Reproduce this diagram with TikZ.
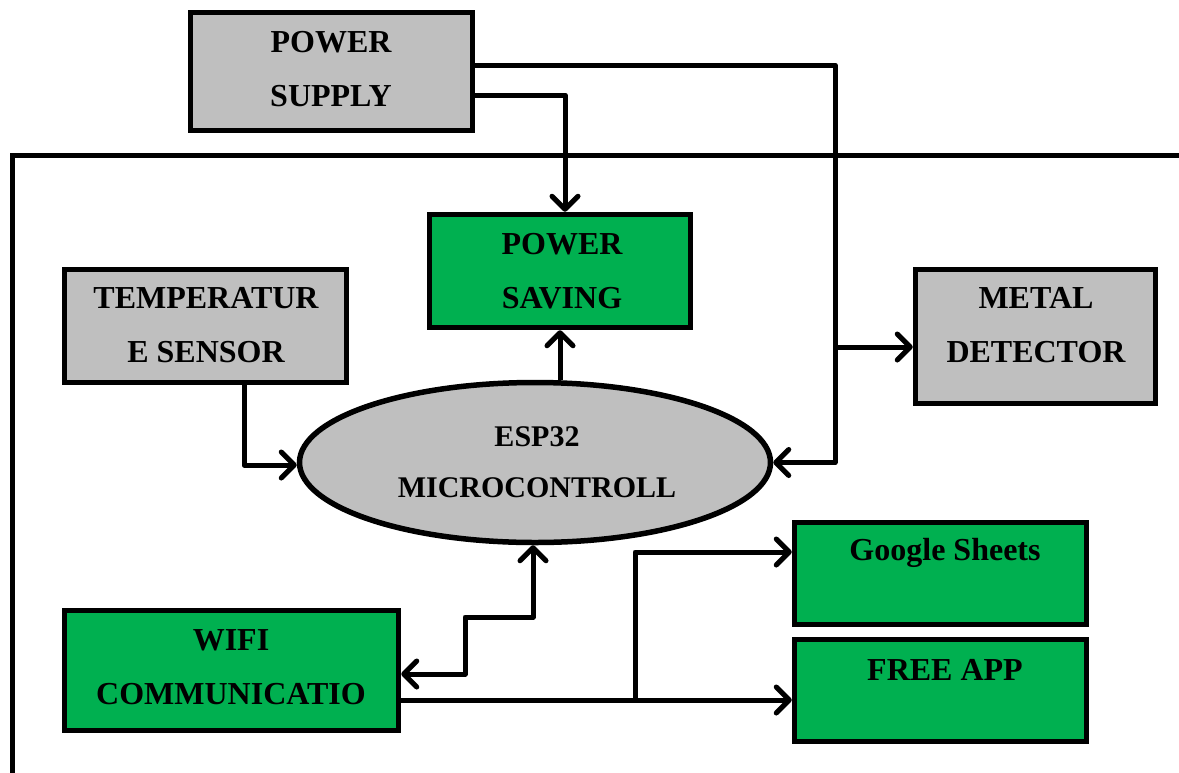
\documentclass[tikz,border=0pt]{standalone}
\usepackage{fontspec}
\setmainfont{Liberation Serif}
\usetikzlibrary{arrows.meta,shapes.geometric}
\definecolor{boxgray}{HTML}{BFBFBF}
\definecolor{boxgreen}{HTML}{00B050}
\begin{document}
\begin{tikzpicture}[x=1pt,y=-1pt,
  box/.style={draw=black,line width=5.5pt,rectangle,inner sep=0pt},
  graybox/.style={box,fill=boxgray},
  greenbox/.style={box,fill=boxgreen},
  lbl/.style={font=\fontsize{32}{54}\selectfont\bfseries,align=center,inner sep=0pt},
  conn/.style={line width=5pt,line join=round,-{Straight Barb[length=13pt,width=26pt,line cap=round,line join=round]}},
  conn2/.style={line width=5pt,line join=round,{Straight Barb[length=13pt,width=26pt,line cap=round,line join=round]}-{Straight Barb[length=13pt,width=26pt,line cap=round,line join=round]}},
  frame/.style={line width=5pt}]
\useasboundingbox (0,0) rectangle (1179,772);

% frame
\coordinate (fr1) at (1185,155);
\coordinate (fr2) at (12,155);
\coordinate (fr3) at (12,780);
\draw[frame] (fr1) -- (fr2) -- (fr3);

% boxes
\node[graybox, minimum width=282pt, minimum height=118pt] (ps) at (331.5,71.5) {};
\node[greenbox, minimum width=261pt, minimum height=113pt] (saving) at (560,271) {};
\node[graybox, minimum width=282pt, minimum height=113pt] (temp) at (205.5,326) {};
\node[graybox, minimum width=240pt, minimum height=134pt] (metal) at (1035.5,336.5) {};
\node[ellipse, draw=black, line width=5.5pt, fill=boxgray, inner sep=0pt, minimum width=471pt, minimum height=160pt] (esp) at (535,462.5) {};
\node[greenbox, minimum width=292pt, minimum height=102pt] (google) at (940.5,573.5) {};
\node[greenbox, minimum width=292pt, minimum height=102pt] (free) at (940.5,690.5) {};
\node[greenbox, minimum width=334pt, minimum height=120pt] (wifi) at (231.5,670.5) {};

% labels
\node[lbl] (psT) at (331,69) {POWER\\SUPPLY};
\node[lbl] (savingT) at (562,271) {POWER\\SAVING};
\node[lbl] (tempT) at (206,325) {TEMPERATUR\\E SENSOR};
\node[lbl] (metalT) at (1036,325) {METAL\\DETECTOR};
\node[lbl, font=\fontsize{30}{51}\selectfont\bfseries] (espT) at (537,462) {ESP32\\MICROCONTROLL};
\node[lbl] (googleT) at (945,553) {Google Sheets};
\node[lbl] (freeT) at (945,670) {FREE APP};
\node[lbl] (wifiT) at (231,667) {WIFI\\COMMUNICATIO};

% helper coordinates
\coordinate (j1) at (835,65);
\coordinate (j2) at (835,347);
\coordinate (j3) at (565,95);
\coordinate (j5) at (244,465);
\coordinate (w1) at (465,674);
\coordinate (w2) at (465,617);
\coordinate (w3) at (533,617);
\coordinate (f1) at (635,700);
\coordinate (g1) at (635,552);

% connectors
\draw[conn] (ps.east |- j1) -- (j1) -- (j1 |- esp.east) -- (esp.east);
\draw[conn] (j2) -- (metal.west |- j2);
\draw[conn] (ps.east |- j3) -- (j3) -- (j3 |- saving.north);
\draw[conn] (esp.north -| saving.south) -- (saving.south);
\draw[conn] (temp.south -| j5) -- (j5) -- (esp.west |- j5);
\draw[conn2] (esp.south -| w3) -- (w3) -- (w2) -- (w1) -- (wifi.east |- w1);
\draw[conn] (wifi.east |- f1) -- (free.west |- f1);
\draw[conn] (f1) -- (g1) -- (google.west |- g1);
\end{tikzpicture}
\end{document}
